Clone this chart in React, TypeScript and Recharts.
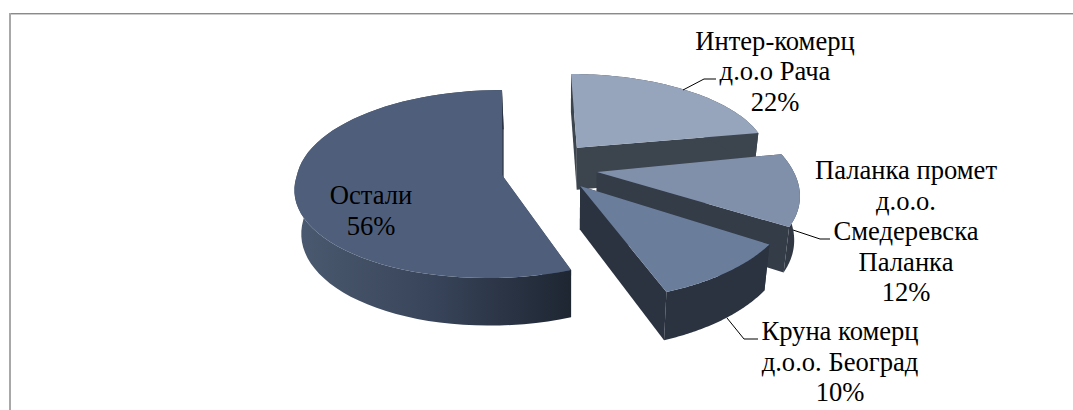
import React from 'react';
import { PieChart, Pie } from 'recharts';

// values in percent, clockwise from north
const names = ['Интер-комерц д.о.о Рача', 'Паланка промет д.о.о. Смедеревска Паланка', 'Круна комерц д.о.о. Београд', 'Остали'];
const shares = [22, 12, 10, 56];
const labelLines = [
  ['Интер-комерц', 'д.о.о Рача'],
  ['Паланка промет', 'д.о.о.', 'Смедеревска', 'Паланка'],
  ['Круна комерц', 'д.о.о. Београд'],
  ['Остали'],
];

const topColors = ['#97a5bc', '#8090ab', '#6a7d9b', '#4f5f7b'];
const sideColors = ['#3c444e', '#343c48', '#2b3340', '#3a4658'];
const arcFills = ['#3c444e', 'url(#wallPalanka)', '#2b3340', 'url(#wallOstali)'];

// explode offset of each slice, in pie radii (right, up)
const offsets = [
  [0.372, 0.3],
  [0.46, 0.032],
  [0.373, -0.117],
  [0, 0],
];
// per slice distortion of the 3D view: [scale x, scale y, shear, shear below centre]
const warps = [
  [0.939, 0.91, 0, 0],
  [0.954, 1.05, -0.095, 0],
  [1.011, 1.08, 0.039, 0],
  [0.99, 1.0, 0, 0.065],
];
const labelCenters = [775, 906, 840, 371];
const labelBaselines = [49.5, 179, 340, 204];
const leaders = [
  '683,90 704,79 716,79',
  '793,230 820,239 830,239',
  '727,318 744,339 758,339',
  '',
];

const TILT = 0.45;
const PERSPECTIVE = 0.096;
const DEPTH = 43;
const VANISH_X = 570;
const SHRINK = 0.975;
const LINE_HEIGHT = 30.5;

const data = names.map((name, i) => ({ name, value: shares[i] }));

function Slice3D(props: any) {
  const { cx, cy, outerRadius, startAngle, endAngle, index } = props;
  const i = index ?? names.indexOf(props.name);
  const [du, dv] = offsets[i];
  const [su, sv, shear, shearDown] = warps[i];

  const project = (u: number, v: number) => {
    const uu = su * u + shear * v + shearDown * Math.min(v, 0) + du;
    const vv = sv * v + dv;
    const w = 1 / (1 + PERSPECTIVE * vv);
    return {
      x: cx + outerRadius * uu * w,
      y: cy - outerRadius * TILT * vv * w,
      w,
    };
  };
  const lower = (p: { x: number; y: number; w: number }) => ({
    x: VANISH_X + (p.x - VANISH_X) * SHRINK,
    y: p.y + DEPTH * p.w,
    w: p.w,
  });

  const steps = 64;
  const arc = [];
  for (let s = 0; s <= steps; s++) {
    const a = ((startAngle + ((endAngle - startAngle) * s) / steps) * Math.PI) / 180;
    arc.push(project(Math.cos(a), Math.sin(a)));
  }
  const apex = project(0, 0);
  const toPath = (pts: { x: number; y: number }[]) =>
    'M' + pts.map((p) => `${p.x.toFixed(2)},${p.y.toFixed(2)}`).join('L') + 'Z';

  const first = arc[0];
  const last = arc[arc.length - 1];
  return (
    <g>
      <path d={toPath([apex, first, lower(first), lower(apex)])} fill={sideColors[i]} />
      <path d={toPath([apex, last, lower(last), lower(apex)])} fill={sideColors[i]} />
      <path d={toPath([...arc, ...arc.map(lower).reverse()])} fill={arcFills[i]} />
      <path d={toPath([apex, ...arc])} fill={topColors[i]} />
    </g>
  );
}

function SliceLabel(props: any) {
  const i = props.index;
  const lines = [...labelLines[i], `${shares[i]}%`];
  return (
    <g>
      {leaders[i] && <polyline points={leaders[i]} fill="none" stroke="#000" strokeWidth={1} />}
      <text textAnchor="middle" fontSize={26.6} fill="#000" style={{ fontFamily: '"Liberation Serif", serif' }}>
        {lines.map((line, n) => (
          <tspan key={n} x={labelCenters[i]} y={labelBaselines[i] + n * LINE_HEIGHT}>
            {line}
          </tspan>
        ))}
      </text>
    </g>
  );
}

export default function App() {
  return (
    <div style={{ position: 'absolute', left: 0, top: 0, width: 1073, height: 410, background: '#fff', overflow: 'hidden' }}>
      <div style={{ position: 'absolute', left: 9, top: 13, right: 0, height: 1, background: '#8a8a8a' }} />
      <div style={{ position: 'absolute', left: 10, top: 14, right: 0, height: 1, background: '#cccccc' }} />
      <div style={{ position: 'absolute', left: 9, top: 13, bottom: 0, width: 2, background: '#a8a8a8' }} />
      <PieChart width={1073} height={410} margin={{ top: 0, right: 0, bottom: 0, left: 0 }} style={{ position: 'absolute', left: 0, top: 0 }}>
        <defs>
          <linearGradient id="wallOstali" x1="0" y1="0" x2="1" y2="0">
            <stop offset="0" stopColor="#4b5a70" />
            <stop offset="0.5" stopColor="#38445a" />
            <stop offset="1" stopColor="#1e2632" />
          </linearGradient>
          <linearGradient id="wallPalanka" x1="0" y1="0" x2="1" y2="0">
            <stop offset="0" stopColor="#343c48" />
            <stop offset="1" stopColor="#2f3641" />
          </linearGradient>
        </defs>
        <Pie
          data={data}
          dataKey="value"
          nameKey="name"
          cx={502}
          cy={175}
          outerRadius={207}
          startAngle={90}
          endAngle={-270}
          stroke="none"
          isAnimationActive={false}
          shape={Slice3D}
          label={SliceLabel}
          labelLine={false}
        />
      </PieChart>
    </div>
  );
}
